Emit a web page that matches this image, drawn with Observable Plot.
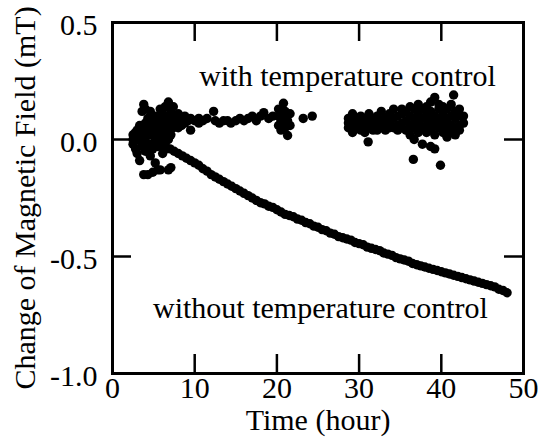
<!DOCTYPE html>
<html><head><meta charset="utf-8">
<script src="https://cdn.jsdelivr.net/npm/d3@7"></script>
<script src="https://cdn.jsdelivr.net/npm/@observablehq/plot@0.6"></script>
<style>body{margin:0;background:#fff}</style>
</head><body><div id="chart"></div>
<script>
const xTicks = [0, 10, 20, 30, 40, 50];
const yTicks = [-1.0, -0.5, 0.0, 0.5];
const xLabel = "Time (hour)";
const yLabel = "Change of Magnetic Field (mT)";

// [time (hour), change of field (mT)]
const withControl = [
  [2.5,0.00],[2.5,-0.02],[2.5,0.02],
  [2.8,0.01],[2.8,-0.04],[2.8,0.03],
  [3.0,0.00],[3.0,0.04],[3.0,-0.06],
  [3.3,0.02],[3.3,-0.09],[3.3,0.06],
  [3.6,0.00],[3.6,0.12],[3.6,-0.03],[3.6,0.05],
  [3.8,0.15],[3.8,-0.15],[3.8,0.03],
  [4.0,0.01],[4.0,0.07],[4.0,-0.05],[4.0,0.13],
  [4.3,0.04],[4.3,-0.02],[4.3,-0.15],[4.3,0.09],
  [4.6,0.12],[4.6,0.02],[4.6,-0.07],[4.6,0.06],
  [4.9,0.03],[4.9,-0.04],[4.9,0.08],[4.9,-0.14],
  [5.2,0.05],[5.2,0.00],[5.2,-0.10],[5.2,0.10],
  [5.5,0.07],[5.5,0.02],[5.5,-0.13],[5.5,0.04],
  [5.8,0.09],[5.8,0.03],[5.8,-0.13],[5.8,0.00],[5.8,0.13],
  [6.1,0.06],[6.1,0.02],[6.1,-0.06],[6.1,0.11],
  [6.4,0.08],[6.4,0.03],[6.4,-0.02],[6.4,0.14],
  [6.8,0.16],[6.8,0.05],[6.8,0.00],[6.8,-0.13],[6.8,0.10],
  [7.1,0.07],[7.1,0.12],[7.1,0.02],[7.1,-0.12],
  [7.4,0.09],[7.4,0.05],[7.4,0.14],
  [7.7,0.10],[7.7,0.06],
  [8.0,0.08],[8.0,0.11],[8.0,0.05],
  [8.4,0.09],[8.4,0.06],
  [8.8,0.10],[8.8,0.07],
  [9.2,0.08],[9.5,0.04],[9.5,0.09],
  [10.0,0.08],[10.5,0.07],[10.5,0.09],[11.0,0.08],[11.5,0.09],
  [12.3,0.12],[12.5,0.08],[13.0,0.07],[13.5,0.08],[14.0,0.08],[14.4,0.07],
  [15.0,0.08],[15.5,0.09],[16.0,0.08],[16.5,0.09],[17.0,0.10],[17.5,0.08],
  [18.0,0.10],[18.4,0.115],[19.0,0.09],[19.5,0.10],
  [20.2,0.06],[20.2,0.10],[20.2,0.13],
  [20.5,0.08],[20.5,0.12],[20.5,0.04],
  [20.8,0.155],[20.8,0.07],[20.8,0.10],
  [21.0,0.05],[21.0,0.12],[21.0,0.09],
  [21.3,0.017],[21.3,0.08],[21.3,0.11],
  [21.6,0.06],[21.6,0.11],
  [23.2,0.09],[24.3,0.10],
  [28.7,0.05],[28.7,0.09],[28.7,0.07],
  [29.2,0.03],[29.2,0.08],[29.2,0.11],
  [29.7,0.05],[29.7,0.09],[29.7,0.06],
  [30.2,0.04],[30.2,0.07],[30.2,0.10],
  [30.7,0.06],[30.7,0.09],[30.7,0.03],
  [31.1,-0.01],
  [31.2,0.05],[31.2,0.08],[31.2,0.11],
  [31.7,0.04],[31.7,0.07],[31.7,0.09],
  [32.2,0.06],[32.2,0.10],[32.2,0.04],
  [32.7,0.05],[32.7,0.08],[32.7,0.12],
  [33.2,0.06],[33.2,0.09],[33.2,0.04],
  [33.7,0.07],[33.7,0.11],[33.7,0.05],
  [34.2,0.05],[34.2,0.09],[34.2,0.13],
  [34.7,0.06],[34.7,0.10],[34.7,0.04],
  [35.2,0.07],[35.2,0.11],[35.2,0.05],[35.2,0.13],
  [35.7,0.04],[35.7,0.08],[35.7,0.12],
  [36.2,0.06],[36.2,0.10],[36.2,0.14],[36.2,0.02],
  [36.6,-0.085],
  [36.7,0.05],[36.7,0.09],[36.7,0.13],[36.7,0.00],
  [37.2,0.07],[37.2,0.11],[37.2,0.03],[37.2,0.15],
  [37.7,0.05],[37.7,0.09],[37.7,0.13],[37.7,-0.02],
  [38.2,0.06],[38.2,0.10],[38.2,0.14],[38.2,0.03],
  [38.7,0.04],[38.7,0.08],[38.7,0.12],[38.7,0.16],[38.7,-0.03],
  [39.2,0.06],[39.2,0.10],[39.2,0.18],[39.2,0.02],[39.2,-0.04],
  [39.7,0.05],[39.7,0.09],[39.7,0.13],[39.7,0.15],
  [39.9,-0.11],
  [40.2,0.07],[40.2,0.11],[40.2,0.03],[40.2,0.14],
  [40.7,0.05],[40.7,0.09],[40.7,0.13],[40.7,0.01],
  [41.2,0.06],[41.2,0.10],[41.2,0.15],[41.2,0.03],
  [41.5,0.19],
  [41.7,0.05],[41.7,0.09],[41.7,0.12],[41.7,0.02],
  [42.2,0.06],[42.2,0.10],[42.2,0.13],[42.2,0.04],
  [42.7,0.07],[42.7,0.10]
];

const withoutControl = [
  [3.0,0.00],[3.5,-0.01],[4.0,-0.01],[4.5,-0.02],[5.0,-0.02],[5.5,-0.03],
  [6.0,-0.03],[6.5,-0.04],[7.0,-0.04],[7.5,-0.05],[8.0,-0.06],[8.5,-0.07],
  [9.0,-0.08],[9.5,-0.09],[10.0,-0.10],[10.5,-0.11],[11.0,-0.125],[11.5,-0.135],
  [12.0,-0.15],[12.5,-0.16],[13.0,-0.17],[13.5,-0.18],[14.0,-0.19],[14.5,-0.20],
  [15.0,-0.21],[15.5,-0.22],[16.0,-0.23],[16.5,-0.24],[17.0,-0.25],[17.5,-0.26],
  [18.0,-0.27],[18.5,-0.275],[19.0,-0.285],[19.5,-0.29],[20.0,-0.30],[20.5,-0.31],
  [21.0,-0.32],[21.5,-0.325],[22.0,-0.33],[22.5,-0.34],[23.0,-0.345],[23.5,-0.355],
  [24.0,-0.36],[24.5,-0.37],[25.0,-0.375],[25.5,-0.385],[26.0,-0.39],[26.5,-0.40],
  [27.0,-0.405],[27.5,-0.415],[28.0,-0.42],[28.5,-0.425],[29.0,-0.43],[29.5,-0.44],
  [30.0,-0.445],[30.5,-0.45],[31.0,-0.46],[31.5,-0.465],[32.0,-0.47],[32.5,-0.475],
  [33.0,-0.485],[33.5,-0.49],[34.0,-0.495],[34.5,-0.505],[35.0,-0.51],[35.5,-0.515],
  [36.0,-0.52],[36.5,-0.53],[37.0,-0.535],[37.5,-0.54],[38.0,-0.545],[38.5,-0.55],
  [39.0,-0.555],[39.5,-0.56],[40.0,-0.565],[40.5,-0.57],[41.0,-0.575],[41.5,-0.58],
  [42.0,-0.585],[42.5,-0.59],[43.0,-0.595],[43.5,-0.60],[44.0,-0.605],[44.5,-0.61],
  [45.0,-0.615],[45.5,-0.62],[46.0,-0.625],[46.5,-0.63],[47.0,-0.64],[47.5,-0.645],
  [48.0,-0.655]
];

const annotations = [
  {label: "with temperature control", t: 28.6, v: 0.27},
  {label: "without temperature control", t: 25.3, v: -0.722}
];

const W = 546, H = 439, mt = 22, mr = 23, mb = 66, ml = 112;
const innerW = W - ml - mr, innerH = H - mt - mb, tick = 19;
const font = "'Liberation Serif', 'Times New Roman', serif";

const chart = Plot.plot({
  width: W, height: H,
  marginTop: mt, marginRight: mr, marginBottom: mb, marginLeft: ml,
  style: {fontFamily: font, fontSize: "30px", background: "#fff", color: "#000"},
  x: {domain: [0, 50], axis: null},
  y: {domain: [-1, 0.5], axis: null},
  marks: [
    Plot.dot(withControl, {x: d => d[0], y: d => d[1], r: 4.7, fill: "#000", stroke: null}),
    Plot.dot(withoutControl, {x: d => d[0], y: d => d[1], r: 4.7, fill: "#000", stroke: null}),
    Plot.tickX(xTicks, {x: d => d, insetTop: innerH - tick, strokeWidth: 2.5}),
    Plot.tickX(xTicks, {x: d => d, insetBottom: innerH - tick, strokeWidth: 2.5}),
    Plot.tickY(yTicks, {y: d => d, insetRight: innerW - tick, strokeWidth: 2.5}),
    Plot.tickY(yTicks, {y: d => d, insetLeft: innerW - tick, strokeWidth: 2.5}),
    Plot.frame({strokeWidth: 3}),
    Plot.axisX(xTicks, {tickSize: 0, tickPadding: 3, fontSize: 30, label: null, tickFormat: d => String(d)}),
    Plot.axisY(yTicks, {tickSize: 0, tickPadding: 15, fontSize: 30, label: null, tickFormat: d => d.toFixed(1), dy: 3}),
    Plot.text([xLabel], {frameAnchor: "bottom", lineAnchor: "middle", textAnchor: "middle", dy: 47, text: d => d, fontSize: 30}),
    Plot.text([yLabel], {frameAnchor: "left", lineAnchor: "middle", textAnchor: "middle", dx: -87, rotate: -90, text: d => d, fontSize: 30}),
    Plot.text(annotations, {x: "t", y: "v", text: "label", fontSize: 30})
  ]
});
document.getElementById("chart").appendChild(chart);
</script>
</body></html>
